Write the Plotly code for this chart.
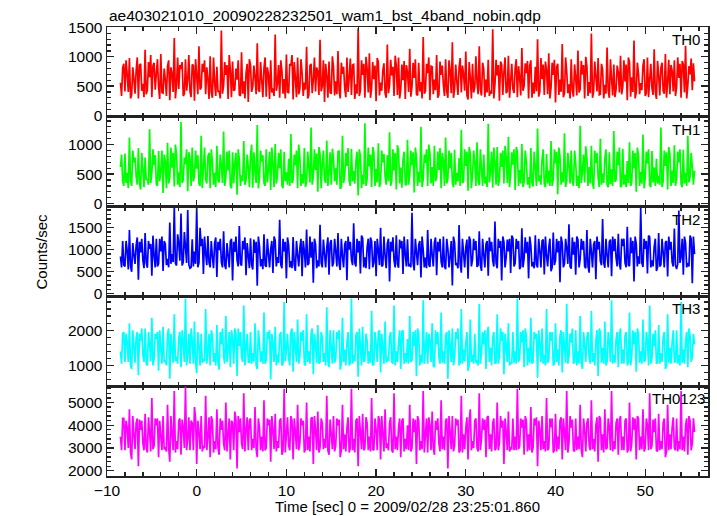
import plotly.graph_objects as go
from plotly.subplots import make_subplots

title_text = "ae403021010_20090228232501_wam1_bst_4band_nobin.qdp"
x_title = "Time [sec] 0 = 2009/02/28 23:25:01.860"
y_title = "Counts/sec"
band_labels = ["TH0", "TH1", "TH2", "TH3", "TH0123"]
band_colors = ["#ff0000", "#00ff00", "#0000ff", "#00ffff", "#ff00ff"]

t_start = -8.5
t_step = 0.125

th0 = [
560,330,820,880,410,940,700,400,980,290,350,820,620,370,760,990,
290,860,880,420,540,310,1120,360,430,910,650,1030,310,850,900,440,
720,960,480,280,1050,390,380,800,610,330,840,940,260,820,700,400,
1320,290,520,990,450,860,790,910,330,370,960,420,600,1030,410,310,
870,850,250,960,680,360,1180,440,470,880,740,940,360,820,620,280,
1010,390,300,990,560,330,830,400,420,290,1450,370,510,910,690,860,
280,1030,770,310,920,420,440,800,610,940,350,330,1080,370,580,290,
720,880,230,960,860,400,490,850,650,360,1230,440,400,910,590,310,
810,990,320,820,700,280,940,390,460,330,1380,420,540,860,300,940,
760,370,620,290,1040,400,380,880,850,1030,270,910,640,310,990,360,
450,960,720,330,560,440,1170,290,340,850,880,380,610,990,410,820,
750,350,1290,410,500,940,230,880,680,300,920,390,370,1010,830,340,
580,360,1100,420,290,900,710,830,460,310,990,400,640,970,350,860,
870,280,530,370,1490,330,420,940,690,880,300,1000,800,390,1060,300,
470,910,620,850,240,980,910,340,560,420,770,890,380,300,1210,380,
520,950,680,830,330,1020,850,350,990,290,440,870,600,930,280,860,
730,400,1140,320,490,900,640,960,360,340,900,410,570,290,1340,370,
410,880,720,990,260,840,830,360,610,430,1030,300,350,920,690,850,
520,330,960,410,300,940,760,380,1250,300,450,870,580,350,820,980,
390,850,700,420,1090,340,270,910,640,290,880,390,480,1010,560,360,
1180,430,340,900,790,310,610,390,950,330,420,370,1470,290,530,950,
680,860,250,920,870,350,740,990,380,410,1020,300,590,880,450,380,
810,960,310,840,660,340,1150,420,500,890,720,930,290,850,940,300,
560,370,830,410,1300,320,400,980,620,870,350,920,780,360,1060,290,
470,900,690,950,220,830,880,350,610,400,1220,310,380,990,750,380,
530,290,960,420,320,870,640,340,1110,390,450,930,700,860,290,1000,
840,330,570,380,1400,300,410,920,660,410,980,350,360,880,780,290,
520,370,1160,420,300,960,620,340,870,310,440,850,730,390,1020,360,
490,940,580,870,260,990,910,320,650,400,1280,290,390,900,720,360,
550,430,850,960,330,380,990,310,610,880,470,350,1130,400,280,930,
690,340,810,900,420,370,1050,300,560,950,360,860,760,410,940,330,
480,990,640,880,300,930,870,390,1190,290,510,840,700,970,430,890,
580]

th1 = [
620,830,380,300,850,350,520,260,1120,380,300,900,700,780,460,320,
940,340,240,860,580,280,780,400,420,320,1260,350,510,920,650,820,
330,300,890,380,560,900,180,830,720,260,1030,340,450,950,610,860,
290,1000,840,320,530,280,1380,350,400,780,670,920,210,870,760,300,
950,380,470,900,590,820,340,300,1150,260,620,950,410,340,800,860,
260,920,700,320,520,280,980,400,360,830,640,350,1220,300,450,880,
560,900,300,260,870,340,690,860,150,920,750,300,480,380,1060,320,
390,830,620,280,830,1000,270,870,540,350,1330,260,440,900,710,820,
350,300,920,360,580,880,230,950,680,280,1010,340,460,860,600,920,
310,260,880,380,530,320,760,300,1180,350,400,830,650,900,260,1000,
790,300,500,340,940,280,370,880,620,360,1290,320,450,920,570,850,
200,960,840,260,690,900,410,350,1070,300,530,870,320,930,760,380,
600,320,880,900,250,280,1150,350,470,860,640,940,380,300,930,380,
550,340,720,880,140,920,810,260,490,330,1360,300,420,950,630,830,
280,960,870,300,590,360,1020,280,350,900,700,840,460,320,820,380,
1210,300,390,920,560,860,240,990,900,340,610,270,750,880,330,310,
1080,320,480,900,650,870,190,950,790,300,540,360,1300,280,410,830,
690,920,300,1000,860,340,620,300,980,380,450,880,570,940,260,860,
730,300,1120,340,420,900,600,860,350,280,910,320,520,380,770,300,
1250,350,380,920,640,880,220,960,850,260,490,900,700,300,1040,380,
310,920,580,300,830,340,460,280,1350,360,540,880,270,950,690,320,
960,300,400,860,620,900,340,980,790,350,1130,280,500,870,660,920,
230,960,880,300,570,340,1010,280,370,900,720,320,450,260,940,350,
290,880,610,300,1270,380,480,320,750,920,330,280,840,340,560,300,
1060,300,410,920,680,880,160,950,800,320,530,360,1190,280,390,860,
640,340,900,380,300,900,710,300,470,260,1320,350,550,830,360,970,
780,300,620,340,980,360,250,900,690,860,440,280,1100,320,510,350,
760,920,320,280,870,330,580,300,1230,370,400,880,650,950,280,300,
930,320,490,280,720,350,1040,300,360,900,600,860,200,950,820,300,
540,340,1170,260,430,880,680,920,310,280,890,360,610,300,760,340,
470,320,1290,280,380,900,640,870,240,960,850,300,560,350,990,300,
420,880,700,920,330,280,910,340,520,300,1150,360,450,860,620,320,
560]

th2 = [
850,600,1200,650,620,1200,980,550,1450,620,500,1150,880,680,1100,1280,
320,1180,940,1250,760,580,1380,700,590,1200,1020,1130,410,1320,870,600,
1250,620,680,1250,960,1300,520,1200,1130,650,790,600,1620,680,900,720,
1980,700,640,1350,1150,750,1820,640,720,1400,1060,700,1900,660,580,600,
1240,620,960,680,1960,600,700,1500,1080,1250,450,1300,920,650,1310,700,
600,1200,840,580,1150,1280,380,1180,990,1250,720,600,1420,650,560,1150,
880,600,1190,1250,300,1180,950,1300,760,620,1540,680,640,1200,1010,1280,
420,1150,870,580,1260,650,550,1230,930,1180,180,1300,1080,620,790,560,
1350,650,610,1250,900,600,1020,1200,470,1300,1210,620,830,700,1680,660,
580,1250,960,1180,350,1280,1100,600,740,580,1290,650,520,1200,880,620,
1040,1250,400,1200,970,600,1460,650,690,1300,820,1180,250,1250,1130,580,
760,620,1570,700,600,1230,910,600,1050,1280,430,1150,1220,620,700,1250,
960,620,1380,680,540,1250,850,600,1120,1200,310,1300,1000,1180,780,650,
1600,700,620,1250,940,1200,460,1320,1270,600,830,580,1050,1250,560,1280,
1190,600,720,1200,400,1250,990,650,1500,620,650,1300,870,580,1140,1250,
280,1180,960,1280,760,600,1330,680,590,1230,1030,1200,450,1300,900,620,
1240,620,680,600,1840,700,530,1250,940,650,1110,1200,370,1300,1000,600,
820,580,1450,660,610,1250,880,620,1170,1280,420,1180,960,1250,730,600,
1300,620,560,1250,1020,600,850,1200,190,1300,1160,650,700,580,1560,680,
480,1250,920,600,1060,1230,340,1300,1210,620,780,1250,990,1200,610,650,
1420,650,520,1250,890,600,1130,1200,410,1280,970,1180,750,620,1640,700,
580,1250,1040,1200,300,1300,1180,600,830,1230,960,1250,470,1320,1270,620,
690,1250,1020,1200,560,620,1490,600,800,1280,920,1180,350,1300,1100,620,
720,580,1330,660,600,1250,980,600,1200,1230,440,1300,870,620,1050,1250,
510,600,1390,650,760,1250,940,1200,260,1300,1150,600,680,1250,1040,680,
1580,620,570,1280,890,1180,430,1300,1230,600,790,1250,1000,1200,620,580,
1450,620,480,1250,960,600,1120,1200,330,1300,1010,1180,740,650,1700,700,
590,1250,880,600,1180,1230,400,1300,970,1250,820,620,1360,680,550,1250,
1080,1250,700,600,1520,650,630,1280,920,1200,280,1300,1140,620,850,680,
1950,700,610,1250,1020,1200,460,1320,1290,600,760,620,1060,1250,520,600,
1380,620,660,1250,940,600,1170,1200,390,1300,1000,1180,720,620,1480,650,
560,680,1890,700,830,1250,430,1300,1150,600,700,620,1320,1250,240,1300,
900]

th3 = [
1400,1050,1900,1950,1100,1900,1650,1100,2200,1000,900,2000,1550,1080,1800,1950,
720,1900,1700,2050,1300,1100,2050,1050,1000,1950,1600,1120,2350,1000,1200,1900,
1750,1950,850,2000,1500,1050,2100,1100,1150,1000,1900,2050,620,1900,1450,1080,
2450,1120,1250,1050,1800,1950,950,2000,1650,1100,2900,1000,1300,1900,1050,2050,
1700,1050,2250,1100,780,1950,1550,1000,1900,1080,1150,1120,2600,1050,1400,1900,
1000,2000,1850,1100,1350,1000,2150,1080,880,1950,1600,2050,1250,1050,2400,1100,
1450,1950,950,2000,1800,1050,2050,1900,700,2050,1550,1950,1250,1100,2700,1000,
1500,1900,1100,1080,1950,1050,1350,1120,2200,1000,900,2000,1650,1100,1400,1050,
2500,1050,1150,1950,1750,2000,600,1900,1600,1100,2100,1000,1300,1080,1850,1950,
1000,1050,2800,1120,1450,1900,1200,1000,1950,2050,820,1950,1550,1100,2300,1050,
1250,1950,1700,2000,1050,1000,2450,1100,1400,1050,1900,2050,750,1900,1600,1080,
2150,1050,1100,1950,1800,1100,1350,1000,2650,1120,950,2000,1500,1050,2000,1080,
1200,1950,1750,2000,880,1050,2350,1100,1450,1000,1650,1950,1000,1080,2900,1050,
1300,1120,1850,1950,680,2050,1550,1000,2100,1100,1150,1900,1700,1050,1400,1080,
2550,1000,1050,1950,1600,1100,1950,2000,800,1900,1500,1050,2250,1080,1250,1120,
1800,1950,1100,1050,2700,1000,1400,1100,1650,2000,900,1950,2000,1050,1350,1080,
1750,1050,2400,1100,1150,1950,1550,2000,700,2050,1900,1000,1300,1080,2850,1050,
1450,1950,1050,1900,1700,1100,2200,1000,950,2000,1600,1950,1250,1050,2500,1080,
1400,1050,1850,1950,620,2000,1550,1100,2050,1000,1200,1950,1750,2050,1000,1080,
2600,1050,1450,1120,1650,1950,850,1000,2300,1100,1300,1050,1900,1080,1150,1000,
2750,1050,1350,1950,1600,2000,900,1900,2100,1100,1500,1000,1800,1950,1050,1080,
2450,1050,1250,2050,1700,1950,750,1900,1550,1100,2200,1000,1100,1050,1950,1080,
1400,1050,2900,1100,1200,1950,1650,2000,950,2050,1850,1000,1500,1080,2350,1050,
1100,1950,1750,1900,650,2000,1600,1100,2050,1050,1300,1000,2600,1080,1150,1950,
1700,1950,1000,1050,2200,1100,1450,1000,1850,2000,800,1950,1550,1080,2750,1050,
1250,1900,1650,2050,1050,1100,2000,1000,1400,1050,2400,1080,900,1950,1600,1100,
1800,1950,1200,1050,2550,1100,1350,1000,1700,2000,700,2050,1950,1080,1500,1050,
2250,1000,1100,1950,1650,1100,2850,1050,1300,1080,1750,1950,950,1900,2050,1050,
1450,1050,1850,1950,1000,1100,2500,1000,1250,2000,1600,1950,820,2050,1900,1080,
1400,1050,2300,1100,1150,1950,1700,1000,2700,1050,1200,1900,1550,2000,1050,1080,
2150,1050,1350,1100,1800,1950,900,1000,2450,1080,1500,1050,1650,2000,1100,1100,
2000,1050,1300,1000,2800,1080,1450,1050,1700,1950,950,2050,1850,1100,1250,1900,
1600]

th0123 = [
3500,2900,4300,4300,2900,4200,3900,3000,4700,2800,2500,4400,3600,2950,4100,4300,
2200,4250,3800,4200,3200,2900,4500,3000,2800,4350,3700,2850,5200,2950,3100,4300,
4000,4300,2600,4200,3500,2900,4400,2950,3000,2850,4900,3000,2400,4400,3600,2900,
5500,2800,3300,2950,4200,4300,2700,4250,3900,3000,5700,2900,3400,4350,2900,4200,
4100,2900,4800,4300,2300,4200,3700,2950,4400,2850,3100,3000,5300,2900,3500,4350,
2600,4400,4200,2800,3300,2950,4700,3000,2700,4300,3800,4200,3200,2900,5000,2850,
3600,4300,2500,4200,4100,2900,4600,4250,2100,4400,3700,4300,3200,2950,5400,2850,
3800,4350,2900,4200,4300,2900,3400,3000,4800,2950,2600,4300,3900,2900,3500,2850,
5100,2900,3000,4300,4000,4250,2400,4400,3800,2950,4500,2850,3300,3000,4200,4300,
2700,2900,5600,2800,3600,4350,3100,2900,4400,4200,2500,4300,3700,2950,4900,2900,
3200,4300,4000,4200,2800,2950,5000,2900,3500,2850,4300,4350,2300,4400,3800,2900,
4600,2800,3000,4300,4100,2950,3400,3000,5300,2900,2700,4250,3600,2950,4400,2850,
3100,4300,4000,4250,2600,2900,4900,2950,3600,2850,3900,4350,2800,3000,5600,2900,
3400,2800,4200,4300,2200,4400,3700,2950,4500,2900,3000,4350,4100,2900,3500,2850,
5200,2950,2900,4300,3800,2900,4400,4250,2500,4400,3600,2850,4700,3000,3200,2900,
4100,4350,2900,2800,5400,2950,3500,2900,3900,4300,2600,4200,4300,2850,3400,2950,
4000,2900,4900,2850,3000,4300,3700,4250,2300,4400,4200,2900,3300,2950,5500,2800,
3600,4300,2800,4350,4000,2900,4600,3000,2700,4200,3800,4300,3200,2850,5100,2950,
3500,2900,4200,4300,2100,4400,3700,2950,4400,2850,3100,4300,4000,4250,2800,2900,
5300,2800,3600,2950,3900,4350,2500,4200,4700,2900,3300,3000,4200,4300,3000,2850,
5400,2900,3400,4300,3800,4250,2600,4350,4400,2950,3600,2850,4100,4300,2900,3000,
5000,2900,3200,4400,3900,4200,2300,4300,3700,2900,4600,2850,3000,2950,4300,2900,
3500,2900,5600,2950,3100,4300,3900,4250,2700,4400,4200,2850,3600,2900,4800,2800,
3000,4300,4000,4350,2200,4200,3800,2900,4400,2950,3300,2850,5200,2900,3000,4300,
3900,4300,2800,2900,4500,2850,3500,2950,4200,4350,2500,4300,3700,2900,5500,2800,
3200,4400,3900,4250,2900,2850,4300,2900,3500,2950,4900,2900,2600,4300,3800,2850,
4100,4300,3100,2900,5100,2950,3400,2850,4000,4350,2400,4400,4300,2900,3600,2800,
4700,2950,3000,4300,3900,2900,5500,2850,3300,2950,4100,4300,2700,4250,4400,2900,
3500,2900,4200,4300,2800,2950,5000,2850,3200,4350,3800,4300,2500,4400,4300,2900,
3500,2950,4700,2850,3000,4300,4000,2900,5400,2950,3100,4250,3700,4300,2900,2850,
4500,2900,3300,2950,4100,4300,2600,2850,4900,2900,3600,2950,3900,4350,3000,2900,
4300,2850,3300,2950,5500,2900,3500,2850,4000,4300,2700,4400,4200,2900,3200,4300,
3700]

series = [th0, th1, th2, th3, th0123]
y_ranges = [[-25, 1510], [-50, 1470], [-60, 1980], [410, 2960], [1770, 5715]]
y_dticks = [500, 500, 500, 1000, 1000]
y_minor = [100, 100, 100, 200, 200]
label_right_px = [703, 703, 703, 703, 708]

fig = make_subplots(rows=5, cols=1, shared_xaxes=True, vertical_spacing=0)

font_family = "Liberation Sans, Arial, Helvetica, sans-serif"
axis_col = "#222222"

for i, (vals, col) in enumerate(zip(series, band_colors)):
    time = [t_start + t_step * k for k in range(len(vals))]
    fig.add_trace(go.Scatter(x=time, y=vals, mode="lines",
                             line=dict(color=col, width=1.7, simplify=False),
                             showlegend=False, hoverinfo="skip"),
                  row=i + 1, col=1)
    fig.update_yaxes(range=y_ranges[i], dtick=y_dticks[i], tick0=0,
                     ticks="inside", ticklen=7, tickwidth=1.3, tickcolor=axis_col,
                     minor=dict(ticks="inside", ticklen=4, dtick=y_minor[i],
                                tickcolor=axis_col, tickwidth=1.3),
                     showline=True, linecolor=axis_col, linewidth=1.5, mirror="allticks",
                     showgrid=False, zeroline=False,
                     tickfont=dict(family=font_family, size=15.5, color="black"),
                     row=i + 1, col=1)
    fig.update_xaxes(range=[-10, 57], dtick=10, tick0=0,
                     ticks="inside", ticklen=7, tickwidth=1.3, tickcolor=axis_col,
                     minor=dict(ticks="inside", ticklen=4, dtick=2,
                                tickcolor=axis_col, tickwidth=1.3),
                     showline=True, linecolor=axis_col, linewidth=1.5, mirror="allticks",
                     showgrid=False, zeroline=False,
                     tickfont=dict(family=font_family, size=15.5, color="black"),
                     row=i + 1, col=1)

fig.update_layout(
    width=717, height=516,
    margin=dict(l=107, r=7, t=27, b=40),
    paper_bgcolor="white", plot_bgcolor="white",
    font=dict(family=font_family, size=15, color="black"),
    showlegend=False,
    hovermode=False,
)

annotations = [
    dict(text=title_text, xref="paper", yref="paper", x=0, y=1, xanchor="left",
         yanchor="bottom", yshift=1, showarrow=False, font=dict(size=15.5)),
    dict(text=x_title, xref="paper", yref="paper", x=0.5, y=0, xanchor="center",
         yanchor="top", yshift=-20, showarrow=False, font=dict(size=15)),
    dict(text=y_title, xref="paper", yref="paper", x=0, y=0.5, xanchor="center",
         yanchor="middle", xshift=-66, textangle=-90, showarrow=False, font=dict(size=15)),
]
for i, lab in enumerate(band_labels):
    top = 1 - i * 0.2
    annotations.append(dict(text=lab, xref="paper", yref="paper", x=1, y=top,
                            xanchor="right", yanchor="top",
                            xshift=label_right_px[i] - 710 + 1, yshift=-2,
                            showarrow=False, font=dict(size=15)))
fig.update_layout(annotations=annotations)

fig.write_html("out.html", config={"displayModeBar": False, "staticPlot": True},
               post_script="document.body.style.margin='0px';")
